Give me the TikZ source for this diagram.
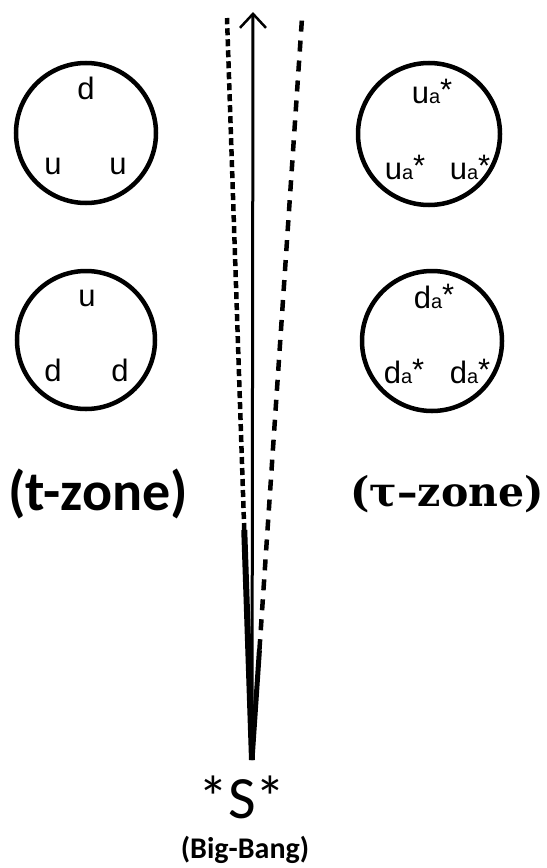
\documentclass[tikz,border=0pt]{standalone}
\usepackage{fontspec}
\setmainfont{Liberation Sans}
\newfontfamily\calfont{Carlito}
\newfontfamily\serfont{DejaVu Serif}
\usetikzlibrary{arrows.meta,calc}

% quark label with small "a" index and a raised star
\newcommand\qk[1]{#1{\fontsize{20bp}{20bp}\selectfont a}\raisebox{3bp}{*}}

\tikzset{
  bag/.style={draw, line width=4.5bp, circle, inner sep=0pt},
  qlabel/.style={font=\fontsize{31bp}{31bp}\selectfont, anchor=base, inner sep=0pt},
  zonelabel/.style={inner sep=0pt, anchor=center},
  worldline/.style={line width=3bp},
  dotline/.style={line width=4.5bp, dash pattern=on 7bp off 4bp},
  dashline/.style={line width=4.5bp, dash pattern=on 11bp off 9bp},
}

\begin{document}
\begin{tikzpicture}[x=1bp, y=-1bp]
  \useasboundingbox (0,0) rectangle (547,868);

  % the four bags of quarks
  \node[bag, minimum size=140bp] (lt) at (86,133) {};
  \node[bag, minimum size=138bp] (lb) at (86,340) {};
  \node[bag, minimum size=142bp] (rt) at (429,134) {};
  \node[bag, minimum size=140bp] (rb) at (432,341) {};

  % t-zone contents
  \node[qlabel] (lt1) at (86,99) {d};
  \node[qlabel] (lt2) at (53,174) {u};
  \node[qlabel] (lt3) at (118,174) {u};
  \node[qlabel] (lb1) at (87,306) {u};
  \node[qlabel] (lb2) at (53,381) {d};
  \node[qlabel] (lb3) at (120,381) {d};

  % tau-zone contents
  \node[qlabel] (rt1) at (432,103) {\qk{u}};
  \node[qlabel] (rt2) at (405,179) {\qk{u}};
  \node[qlabel] (rt3) at (470,179) {\qk{u}};
  \node[qlabel] (rb1) at (434,308) {\qk{d}};
  \node[qlabel] (rb2) at (404,383) {\qk{d}};
  \node[qlabel] (rb3) at (470,383) {\qk{d}};

  % zone captions
  \node[zonelabel, font=\calfont\bfseries\fontsize{56bp}{56bp}\selectfont] (tz) at (98,494) {(t-zone)};
  \node[zonelabel, font=\serfont\bfseries\fontsize{41bp}{41bp}\selectfont] (tauz) at (447,494) {(τ–zone)};

  % origin
  \node[zonelabel, font=\calfont\fontsize{60bp}{60bp}\selectfont] (s) at (242,797) {*S*};
  \node[zonelabel, font=\calfont\bfseries\fontsize{30bp}{30bp}\selectfont] (bb) at (245,850) {(Big-Bang)};

  % world lines from the origin
  \coordinate (o) at (252,760);
  \coordinate (ctop) at (253,12);
  \coordinate (ltop) at (227,18);
  \coordinate (rtop) at (302,18);
  \coordinate (lmid) at ($(o)!0.31!(ltop)$);
  \coordinate (rmid) at ($(o)!0.148!(rtop)$);

  \draw[line width=6bp] (o) -- (lmid);
  \draw[dotline] (lmid) -- (ltop);
  \draw[line width=5bp] (o) -- (rmid);
  \draw[dashline] (rmid) -- (rtop);
  \draw[worldline, -{Straight Barb[length=14bp, width=26bp, line width=2.5bp]}] (o) -- (ctop);
\end{tikzpicture}
\end{document}
